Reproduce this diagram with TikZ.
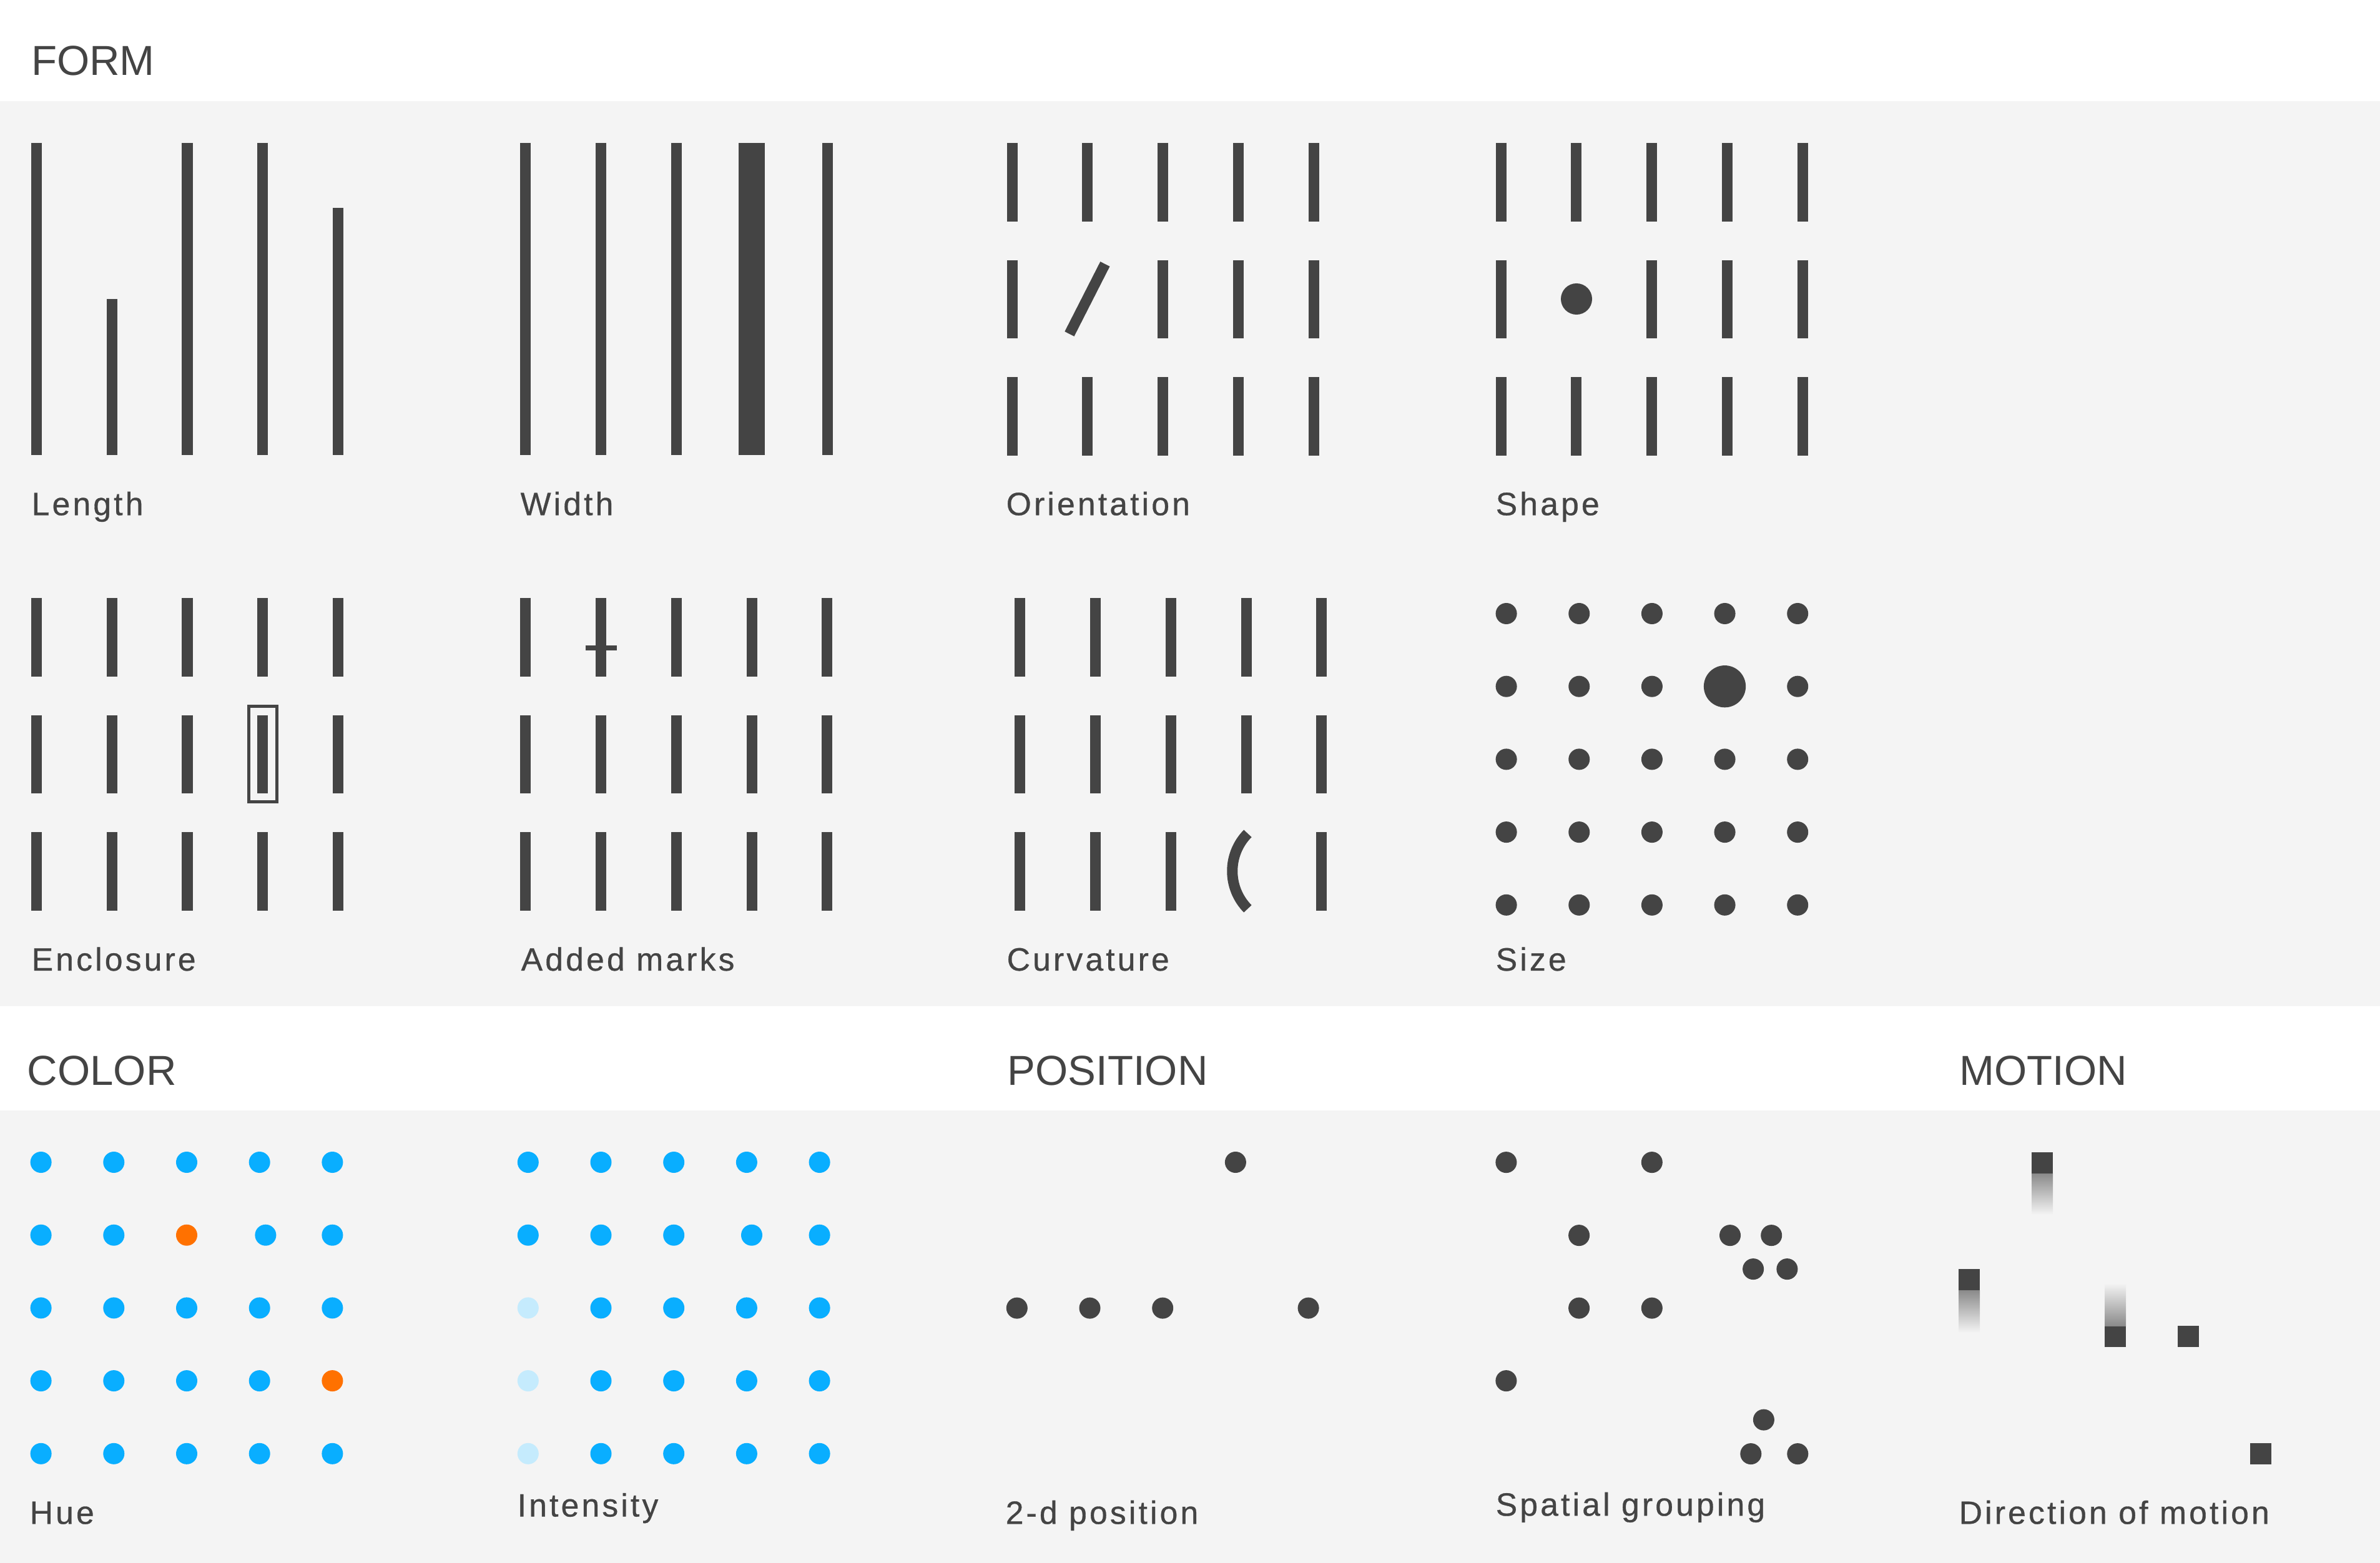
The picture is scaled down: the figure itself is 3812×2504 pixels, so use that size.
\documentclass[tikz,border=0pt]{standalone}
\usepackage{fontspec}
\setmainfont{Liberation Sans}
\newfontfamily\labelfont[LetterSpace=8, FakeBold=0.6]{Liberation Sans}

\definecolor{ink}{HTML}{444444}
\definecolor{panel}{HTML}{F4F4F4}
\definecolor{sky}{RGB}{9,174,255}
\definecolor{paleSky}{RGB}{197,235,253}
\definecolor{tangerine}{RGB}{255,113,0}

% 5 x 3 block of short ticks, one cell (row, column) left out
\newcommand{\tickgrid}[4]{%
  \foreach \r in {0,1,2}
    \foreach \c in {0,...,4}{%
      \pgfmathtruncatemacro{\skipcell}{(\r==#3)&&(\c==#4)}%
      \ifnum\skipcell=0
        \draw[bar] ({#1+120.8*\c},{#2+187.6*\r}) -- ++(0,125.6);
      \fi}}

\begin{document}
\begin{tikzpicture}[x=0.01cm, y=-0.01cm,
  heading/.style={anchor=base west, inner sep=0pt, text=ink,
    font=\fontsize{19.1}{23}\selectfont},
  caption/.style={anchor=base west, inner sep=0pt, text=ink,
    font=\labelfont\fontsize{14.7}{18}\selectfont},
  bar/.style={draw=ink, line width=0.17cm},
  fatbar/.style={draw=ink, line width=0.42cm},
  crossbar/.style={draw=ink, line width=0.08cm},
  frame/.style={draw=ink, line width=0.045cm},
  trail/.style={top color=ink!60!panel, bottom color=panel},
  lead/.style={top color=panel, bottom color=ink!60!panel}
]

% Canvas and the two grey panels
\useasboundingbox (0,0) rectangle (3812,2504);
\fill[white] (0,0) rectangle (3812,2504);
\fill[panel] (0,162) rectangle (3812,1612);
\fill[panel] (0,1779) rectangle (3812,2504);

% Headings
\node[heading] (form) at (49.5,120.7) {FORM};
\node[heading] (color) at (43,1738.3) {COLOR};
\node[heading] (position) at (1613,1738.3) {POSITION};
\node[heading] (motion) at (3138,1738.3) {MOTION};

% Length
\foreach \c/\t in {0/229,1/478.8,2/229,3/229,4/333}
  \draw[bar] ({58.4+120.8*\c},\t) -- ({58.4+120.8*\c},729.4);
\node[caption] (length) at (50,825.3) {Length};

% Width
\foreach \c in {0,1,2,4}
  \draw[bar] ({841.6+120.9*\c},229) -- ({841.6+120.9*\c},729.4);
\draw[fatbar] (1204,229) -- (1204,729.4);
\node[caption] (width) at (833,825.3) {Width};

% Orientation
\tickgrid{1621}{229}{1}{1}
\draw[bar] (1712.9,535) -- (1769.9,423);
\node[caption] (orientation) at (1611,825.3) {Orientation};

% Shape
\tickgrid{2404}{229}{1}{1}
\fill[ink] (2525,479) circle[radius=0.25cm];
\node[caption] (shape) at (2395,825.3) {Shape};

% Enclosure
\tickgrid{58.4}{958}{-1}{-1}
\draw[frame] (398.3,1131.5) rectangle (443.7,1284.5);
\node[caption] (enclosure) at (50,1554.9) {Enclosure};

% Added marks
\tickgrid{841.6}{958}{-1}{-1}
\draw[crossbar] (937.6,1038) -- (987.6,1038);
\node[caption] (addedmarks) at (834,1554.9) {Added marks};

% Curvature
\tickgrid{1633.7}{958}{2}{3}
\draw[bar] (1998.4,1335.3) arc[start angle=135.5, end angle=224.5, radius=0.86cm];
\node[caption] (curvature) at (1612,1554.9) {Curvature};

% Size
\foreach \r in {0,2,3,4}
  \foreach \c in {0,...,4}
    \fill[ink] ({2412.6+116.65*\c},{983+116.7*\r}) circle[radius=0.17cm];
\foreach \c in {0,1,2,4}
  \fill[ink] ({2412.6+116.65*\c},1099.7) circle[radius=0.17cm];
\fill[ink] (2762.5,1099.7) circle[radius=0.336cm];
\node[caption] (size) at (2395,1554.9) {Size};

% Hue
\foreach \r in {0,2,4}
  \foreach \c in {0,...,4}
    \fill[sky] ({65.6+116.7*\c},{1862+116.7*\r}) circle[radius=0.17cm];
\foreach \x in {65.6,182.3,425.4,532.4}
  \fill[sky] (\x,1978.7) circle[radius=0.17cm];
\foreach \x in {65.6,182.3,299,415.7}
  \fill[sky] (\x,2212.1) circle[radius=0.17cm];
\fill[tangerine] (299,1978.7) circle[radius=0.17cm];
\fill[tangerine] (532.4,2212.1) circle[radius=0.17cm];
\node[caption] (hue) at (47,2441.3) {Hue};

% Intensity
\foreach \r in {0,2,3,4}
  \foreach \c in {1,...,4}
    \fill[sky] ({845.8+116.7*\c},{1862+116.7*\r}) circle[radius=0.17cm];
\fill[sky] (845.8,1862) circle[radius=0.17cm];
\foreach \x in {845.8,962.5,1079.2,1204,1312.6}
  \fill[sky] (\x,1978.7) circle[radius=0.17cm];
\foreach \r in {2,3,4}
  \fill[paleSky] (845.8,{1862+116.7*\r}) circle[radius=0.17cm];
\node[caption] (intensity) at (828,2429.5) {Intensity};

% 2-d position
\foreach \x in {1628.8,1745.5,1862.2,2095.6}
  \fill[ink] (\x,2095.6) circle[radius=0.17cm];
\fill[ink] (1978.9,1862) circle[radius=0.17cm];
\node[caption] (twod) at (1610,2441.3) {2-d position};

% Spatial grouping
\foreach \x/\y in {2412.4/1862.1, 2645.8/1862.1, 2529.1/1979.1, 2771/1979.1,
    2837.2/1979.1, 2808.1/2033.1, 2862.4/2033.1, 2529.1/2095.6, 2645.8/2095.6,
    2412.4/2212.1, 2824.9/2274.6, 2804.3/2329.1, 2879.3/2329.1}
  \fill[ink] (\x,\y) circle[radius=0.17cm];
\node[caption] (spatial) at (2395,2428.2) {Spatial grouping};

% Direction of motion (fading trails behind the moving squares)
\fill[ink] (3254,1846) rectangle ++(34,34);
\shade[trail] (3254,1880) rectangle ++(34,66);
\fill[ink] (3137,2033) rectangle ++(34,34);
\shade[trail] (3137,2067) rectangle ++(34,68);
\fill[ink] (3371,2124) rectangle ++(34,34);
\shade[lead] (3371,2056) rectangle ++(34,68);
\fill[ink] (3488,2124) rectangle ++(34,34);
\fill[ink] (3604,2312) rectangle ++(34,34);
\node[caption] (direction) at (3137,2441.3) {Direction of motion};

\end{tikzpicture}
\end{document}
